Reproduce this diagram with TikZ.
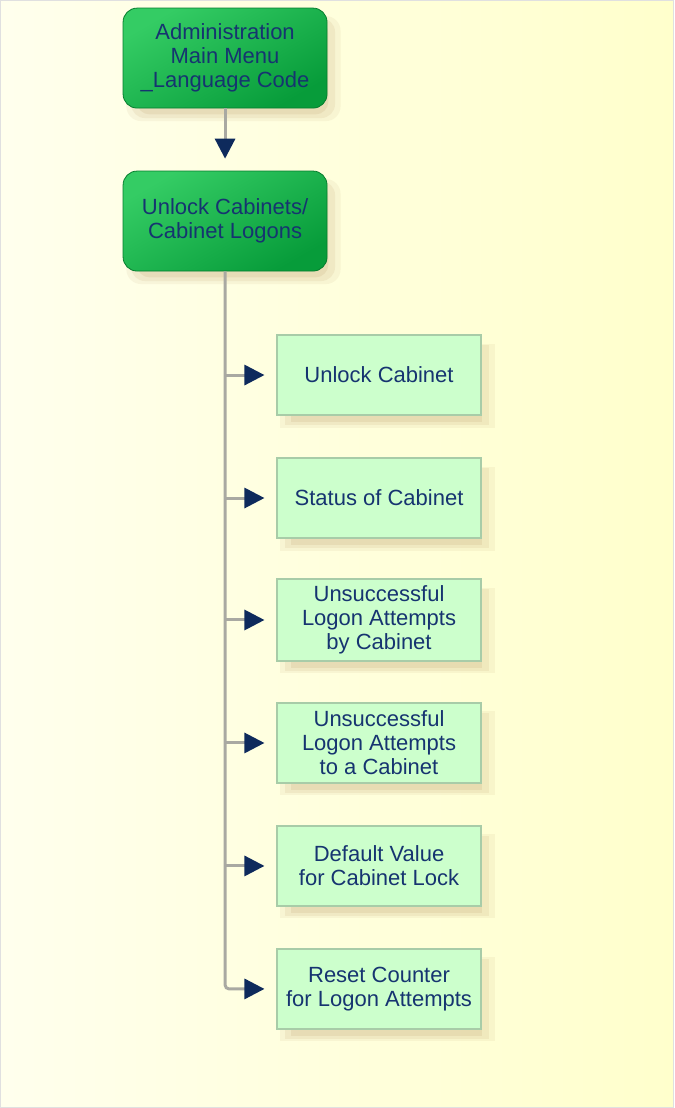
\documentclass[tikz,border=0pt]{standalone}
\usepackage{fontspec}
\setmainfont{Liberation Sans}
\usetikzlibrary{positioning,shadows,arrows.meta}
\definecolor{bgyellow}{HTML}{FFFFCC}
\definecolor{menugreen}{HTML}{079C3A}
\definecolor{menulight}{HTML}{34CC64}
\definecolor{boxgreen}{HTML}{CCFFCC}
\definecolor{boxline}{HTML}{A8CCA8}
\definecolor{textnavy}{HTML}{163470}
\definecolor{tipnavy}{HTML}{0E2A5C}
\definecolor{trunkgray}{HTML}{A9A9A2}
\definecolor{shadowtan}{HTML}{C2A472}

\begin{document}
\begin{tikzpicture}[x=0.5pt,y=-0.5pt,
    every node/.style={font=\fontsize{11}{12}\selectfont, text=textnavy, align=center},
    soft/.style={
      drop shadow={shadow xshift=4pt, shadow yshift=-5pt, shadow scale=1.05, fill=shadowtan, opacity=0.10},
      drop shadow={shadow xshift=4pt, shadow yshift=-5pt, fill=shadowtan, opacity=0.14},
      drop shadow={shadow xshift=4pt, shadow yshift=-5pt, shadow scale=0.94, fill=shadowtan, opacity=0.18}},
    menu/.style={soft, rounded corners=7pt, draw=menugreen!80!black, line width=0.4pt,
      top color=menulight, bottom color=menugreen, shading angle=30,
      minimum width=102pt, minimum height=50pt},
    item/.style={soft, draw=boxline, fill=boxgreen, line width=0.6pt,
      minimum width=102pt, minimum height=40pt},
    arr/.style={draw=trunkgray, line width=1.5pt,
      -{Triangle[length=10pt,width=10pt,color=tipnavy]}, shorten >=6pt}]
  \fill[left color=bgyellow!35!white, right color=bgyellow] (0,0) rectangle (674,1108);
  \draw[black!12, line width=0.6pt] (0.5,0.5) rectangle (673.5,1107.5);

  \node[menu] (adm) at (225,58) {Administration\\Main Menu\\\_Language Code};
  \node[menu] (ucl) at (225,221) {Unlock Cabinets/\\Cabinet Logons};

  \node[item] (b1) at (379,375) {Unlock Cabinet};
  \node[item] (b2) at (379,498) {Status of Cabinet};
  \node[item] (b3) at (379,620) {Unsuccessful\\Logon Attempts\\ by Cabinet};
  \node[item] (b4) at (379,743) {Unsuccessful\\Logon Attempts\\ to a Cabinet};
  \node[item] (b5) at (379,866) {Default Value\\for Cabinet Lock};
  \node[item] (b6) at (379,989) {Reset Counter\\for Logon Attempts};

  \draw[arr] (adm) -- (ucl);
  \draw[arr, rounded corners=2pt] (ucl.south) |- (b6.west);
  \foreach \b in {b1,b2,b3,b4,b5}
    \draw[arr] (ucl.south |- \b.west) -- (\b.west);
\end{tikzpicture}
\end{document}
